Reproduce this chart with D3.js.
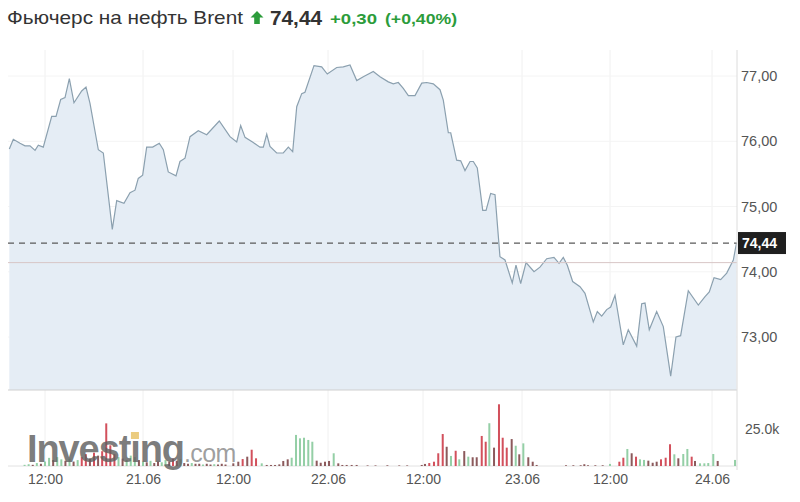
<!DOCTYPE html>
<html><head><meta charset="utf-8">
<script src="https://cdn.jsdelivr.net/npm/d3@7"></script>
<style>
html,body{margin:0;padding:0;background:#fff;}
svg{display:block;font-family:"Liberation Sans",Arial,sans-serif;}
</style></head>
<body><svg id="c" width="800" height="502"></svg>
<script>
// ---- data ----
const titleText = "Фьючерс на нефть Brent";
const lastPrice = 74.44;
const changeText = "+0,30";
const changePctText = "(+0,40%)";
const prevClose = 74.14;

const tickHours = [12, 24, 36, 48, 60, 72, 84, 96];
const tickLabels = ["12:00", "21.06", "12:00", "22.06", "12:00", "23.06", "12:00", "24.06"];
const priceTicks = [73, 74, 75, 76, 77];
const volumeTicks = [25000];

const priceHours = [7.63,8.12,8.94,9.55,10.16,10.78,11.18,11.79,12.82,13.35,
13.92,14.45,14.98,15.55,16.49,17.02,17.51,18.53,19.14,20.24,
20.78,21.67,22.41,23.02,23.42,23.96,24.49,25.29,26.17,26.71,
27.37,28.4,28.93,29.6,30.27,31.37,32.49,34.17,35.6,36.47,
36.97,37.52,38.56,39.41,39.83,40.26,40.67,41.52,42.35,42.99,
43.54,44.05,44.68,45.09,46.23,47.2,47.91,49.1,49.93,50.78,
51.63,52.46,53.72,54.57,55.62,56.25,56.88,57.51,58.15,58.99,
59.84,60.45,61.25,62.06,62.46,63.07,63.36,64.08,64.57,65.09,
65.7,66.1,66.58,67.24,67.64,68.2,68.73,69.33,69.94,70.82,
71.27,71.84,72.55,73.64,74.45,75.37,76.36,77.05,77.63,78.18,
78.91,79.91,80.59,81.72,82.27,82.87,83.55,84.08,84.59,85.56,
86.15,87.14,87.73,88.12,88.62,89.49,90.27,91.14,91.76,92.31,
93.21,94.39,95.18,95.68,96.24,97.02,97.73,98.51,98.88];

const priceValues = [75.88,76.03,75.97,75.93,75.93,75.86,75.94,75.91,76.38,76.38,
76.64,76.67,76.96,76.59,76.77,76.83,76.58,75.87,75.82,74.65,
75.09,75.05,75.21,75.25,75.43,75.48,75.91,75.91,75.97,75.87,
75.53,75.47,75.69,75.74,76.07,76.16,76.10,76.31,76.07,75.99,
76.24,76.06,75.98,75.91,75.91,76.11,75.92,75.82,75.82,75.91,
75.84,76.53,76.73,76.75,77.16,77.14,77.03,77.13,77.14,77.17,
76.93,76.99,77.07,76.99,76.91,76.88,76.90,76.81,76.70,76.70,
76.89,76.90,76.88,76.79,76.63,76.13,76.13,75.71,75.70,75.55,
75.69,75.69,75.59,74.94,74.94,75.20,75.18,74.23,74.18,73.83,
74.10,73.82,74.14,74.00,74.07,74.20,74.22,74.13,74.22,74.10,
73.85,73.77,73.67,73.23,73.39,73.32,73.42,73.46,73.64,72.88,
73.11,72.86,73.51,73.52,73.11,73.39,73.16,72.40,73.00,73.02,
73.71,73.49,73.62,73.69,73.91,73.88,73.98,74.18,74.44];

const volumeHours = [9.5,10,10.5,11,11.5,12,12.5,13,13.5,14,14.5,15,15.5,16,16.5,17,17.5,18,18.5,19,
19.5,20,20.5,21,21.5,22,22.5,23,23.5,24,24.5,25,25.5,26,26.5,27,27.5,28,28.5,29,
29.5,30,30.5,31,31.5,32,32.5,33,33.5,34,34.5,35,
36.04,36.67,37.22,37.8,38.36,38.91,39.63,40.26,40.8,41.31,41.85,42.35,42.91,43.41,43.96,44.46,44.97,45.51,46.02,46.57,
47.08,47.62,48.13,48.72,49.3,49.81,50.36,50.99,51.62,53,54,55.5,57,58,
59.84,60.24,60.76,61.33,61.85,62.39,62.87,63.39,63.96,64.4,65,65.49,66.02,66.51,67.12,67.6,68.04,68.61,69.21,69.66,
70.15,70.75,71.24,71.67,72.18,72.86,73.46,74,78,79,80,80.5,81,82,83,
84,85.1,85.57,86.04,86.55,87.06,87.53,88,88.51,89.02,89.49,90,90.55,91.06,91.57,92.04,92.62,93.1,93.61,94,
94.59,95.1,95.56,96.15,96.67,98.71];

const volumeValues = [800,1200,800,2000,1500,3000,5500,4000,6000,4500,3500,5000,3000,4000,6000,8000,5000,9000,7000,10000,
28800,14000,8000,6000,5000,4000,7000,6000,4000,3000,2500,3500,2000,3000,2500,4000,3000,5000,3500,4500,
2000,1500,2000,1500,1500,1000,1500,1000,1200,1000,1500,1000,
1800,2900,4700,6300,11000,5200,1800,700,700,700,1100,3400,4500,5600,21000,18700,19100,17600,16400,3600,
2200,2900,3400,8600,1800,700,700,700,700,400,400,500,400,400,
700,1400,2000,2900,8600,21600,13000,6800,10300,4500,10100,6300,5900,5900,20300,16400,28900,12400,41700,19100,
12400,18200,13700,7900,15300,5900,2900,700,500,500,500,1200,500,500,500,
1400,2900,5600,11500,8600,6300,4500,4100,3600,2200,2900,4500,5600,14700,7900,5200,8100,11500,6300,3400,
1800,1800,2000,8100,3400,4100];

const volumeDir = ["g","g","d","g","d","g","g","d","g","g","d","g","d","g","r","r","d","r","d","r",
"r","r","r","g","d","g","g","g","d","g","d","g","d","d","g","g","d","r","d","g",
"d","d","g","d","d","g","d","d","g","d","d","d",
"d","d","r","d","r","r","g","d","d","d","d","d","d","g","g","g","g","g","g","d",
"d","d","d","g","d","d","d","d","d","d","d","d","d","d",
"d","d","r","r","r","r","d","g","r","g","d","g","d","d","r","r","g","d","r","r",
"r","d","g","d","g","d","d","d","d","d","d","d","d","d","d",
"g","r","r","g","d","r","g","g","d","d","d","r","r","r","g","d","g","g","r","d",
"g","g","g","g","d","g"];

// ---- layout ----
const plotLeft = 8, plotRight = 737;
const priceTop = 50, priceBottom = 390;
const volBottom = 466;
const dirColor = {g: "#94cfa6", r: "#d2505c", d: "#8c5a5c"};
const green = "#2c9c3b";
const fmtPrice = v => v.toFixed(2).replace(".", ",");

const svg = d3.select("#c");

const x = d3.scaleLinear().domain(tickHours).range([45, 143, 233, 328, 423, 522, 610, 712]);
const y = d3.scaleLinear().domain([73, 77]).range([337, 76]);
const yv = d3.scaleLinear().domain([0, 25000]).range([volBottom, 429]);

const priceData = priceHours.map((h, i) => ({h, p: priceValues[i]}));
const volData = volumeHours.map((h, i) => ({h, v: volumeValues[i], d: volumeDir[i]}));

// grid
svg.append("g").selectAll("line").data(tickHours).join("line")
  .attr("x1", d => x(d)).attr("x2", d => x(d))
  .attr("y1", priceTop).attr("y2", volBottom)
  .attr("stroke", "#f0f0f0");
svg.append("g").selectAll("line").data(priceTicks).join("line")
  .attr("x1", plotLeft).attr("x2", plotRight)
  .attr("y1", d => y(d)).attr("y2", d => y(d))
  .attr("stroke", "#f4f4f4");

// area + line
svg.append("path").datum(priceData)
  .attr("d", d3.area().x(d => x(d.h)).y0(priceBottom).y1(d => y(d.p)))
  .attr("fill", "#e5edf5");
svg.append("path").datum(priceData)
  .attr("d", d3.line().x(d => x(d.h)).y(d => y(d.p)))
  .attr("fill", "none").attr("stroke", "#8ba0af").attr("stroke-width", 1.2);

// previous close line and last-price dashed line
svg.append("line").attr("x1", plotLeft).attr("x2", plotRight)
  .attr("y1", y(prevClose)).attr("y2", y(prevClose))
  .attr("stroke", "#d8c6c6").attr("stroke-width", 1);
svg.append("line").attr("x1", plotLeft).attr("x2", plotRight)
  .attr("y1", y(lastPrice)).attr("y2", y(lastPrice))
  .attr("stroke", "#5a5a5a").attr("stroke-width", 1.2).attr("stroke-dasharray", "6,5");

// separators
svg.append("line").attr("x1", plotLeft).attr("x2", plotRight).attr("y1", priceBottom).attr("y2", priceBottom)
  .attr("stroke", "#cfcfcf");
svg.append("line").attr("x1", plotLeft).attr("x2", plotRight).attr("y1", volBottom).attr("y2", volBottom)
  .attr("stroke", "#e2e2e2");
svg.append("line").attr("x1", plotRight).attr("x2", plotRight).attr("y1", priceTop).attr("y2", 470)
  .attr("stroke", "#dcdcdc");

// volume bars
svg.append("g").selectAll("rect").data(volData).join("rect")
  .attr("x", d => x(d.h) - 1).attr("width", 2)
  .attr("y", d => yv(d.v)).attr("height", d => volBottom - yv(d.v))
  .attr("fill", d => dirColor[d.d]);

// watermark
const wm = svg.append("text").attr("x", 27).attr("y", 462)
  .attr("font-size", 38).attr("font-weight", "bold").attr("letter-spacing", -1.1)
  .attr("fill", "#5f5f5f").attr("fill-opacity", 0.82);
wm.append("tspan").text("Invest\u0131ng");
wm.append("tspan").text(".com").attr("font-weight", "normal").attr("font-size", 25)
  .attr("letter-spacing", -0.6).attr("fill", "#8a8a8a");
const wmNode = wm.node();
const s6 = wmNode.getStartPositionOfChar(6), e6 = wmNode.getEndPositionOfChar(6);
svg.append("rect").attr("x", (s6.x + e6.x) / 2 - 4).attr("y", 432).attr("width", 8).attr("height", 7)
  .attr("fill", "#e8c36a").attr("fill-opacity", 0.85);

// axes
const xAxis = d3.axisBottom(x).tickValues(tickHours).tickFormat((d, i) => tickLabels[i]).tickSize(0).tickPadding(0);
const gx = svg.append("g").attr("transform", `translate(0,${474})`).call(xAxis);
gx.select(".domain").remove();
gx.selectAll("text").attr("font-size", 14).attr("fill", "#555").attr("font-family", "Liberation Sans, Arial, sans-serif").attr("dy", "0.71em");

const yAxis = d3.axisRight(y).tickValues(priceTicks).tickFormat(fmtPrice).tickSize(0).tickPadding(4);
const gy = svg.append("g").attr("transform", `translate(${plotRight},0)`).call(yAxis);
gy.select(".domain").remove();
gy.selectAll("text").attr("font-size", 14.5).attr("fill", "#555").attr("font-family", "Liberation Sans, Arial, sans-serif");

const vAxis = d3.axisRight(yv).tickValues(volumeTicks).tickFormat(d => (d / 1000).toFixed(1) + "k").tickSize(0).tickPadding(8);
const gv = svg.append("g").attr("transform", `translate(${plotRight},0)`).call(vAxis);
gv.select(".domain").remove();
gv.selectAll("text").attr("font-size", 14).attr("fill", "#555").attr("font-family", "Liberation Sans, Arial, sans-serif");

// last price label
svg.append("rect").attr("x", plotRight + 1).attr("y", y(lastPrice) - 11).attr("width", 48).attr("height", 22).attr("fill", "#1f1f1f");
svg.append("text").attr("x", plotRight + 5).attr("y", y(lastPrice)).attr("dy", "0.35em")
  .attr("font-size", 14).attr("font-weight", "bold").attr("fill", "#fff").text(fmtPrice(lastPrice));

// title
svg.append("text").attr("x", 7).attr("y", 24).attr("font-size", 18.5).attr("fill", "#333")
  .attr("textLength", 236).attr("lengthAdjust", "spacingAndGlyphs").text(titleText);
svg.append("path").attr("d", "M257,11 L263.5,17.5 L259.8,17.5 L259.8,24 L254.2,24 L254.2,17.5 L250.5,17.5 Z").attr("fill", green);
svg.append("text").attr("x", 270).attr("y", 25).attr("font-size", 20).attr("font-weight", "bold").attr("fill", "#333")
  .attr("textLength", 52).attr("lengthAdjust", "spacingAndGlyphs").text(fmtPrice(lastPrice));
svg.append("text").attr("x", 330).attr("y", 24).attr("font-size", 15.5).attr("font-weight", "bold").attr("fill", green)
  .attr("textLength", 47).attr("lengthAdjust", "spacingAndGlyphs").text(changeText);
svg.append("text").attr("x", 385).attr("y", 24).attr("font-size", 15.5).attr("font-weight", "bold").attr("fill", green)
  .attr("textLength", 72).attr("lengthAdjust", "spacingAndGlyphs").text(changePctText);
</script></body></html>
